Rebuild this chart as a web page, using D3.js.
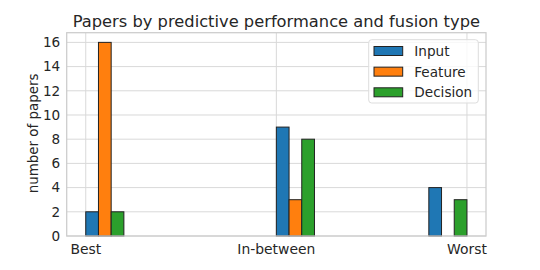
<!DOCTYPE html>
<html>
<head>
<meta charset="utf-8">
<script src="https://cdn.jsdelivr.net/npm/d3@7"></script>
<style>
  body { margin: 0; background: #fff; }
  text { font-family: "DejaVu Sans", sans-serif; fill: #262626; }
</style>
</head>
<body>
<svg id="chart" width="540" height="270"></svg>
<script>
// values
const categories = ['Best', 'In-between', 'Worst'];
const seriesNames = ['Input', 'Feature', 'Decision'];
const inputCounts = [2, 9, 4];
const featureCounts = [16, 3, 0];
const decisionCounts = [2, 8, 3];
const yTicks = [0, 2, 4, 6, 8, 10, 12, 14, 16];

const colors = ['#1f77b4', '#ff7f0e', '#2ca02c'];
const counts = [inputCounts, featureCounts, decisionCounts];

// plot area (note: "top" is taken by window.top, so use other names)
const plotL = 66.7, plotR = 486, plotT = 32.7, plotB = 236;
let barW = 1 / 15;

// the last group hangs to the left of its tick in the original
let groupStart = (i) => i === categories.length - 1 ? i - 3 * barW : i;

let bars = [];
categories.forEach((c, i) => {
    seriesNames.forEach((s, j) => {
        bars.push({cat: i, series: j, x0: groupStart(i) + j * barW, v: counts[j][i]});
    });
});

let xmin = d3.min(bars, b => b.x0), xmax = d3.max(bars, b => b.x0 + barW);
let xpad = (xmax - xmin) * 0.05;
let x = d3.scaleLinear().domain([xmin - xpad, xmax + xpad]).range([plotL, plotR]);
let y = d3.scaleLinear().domain([0, 16 * 1.05]).range([plotB, plotT]);

let svg = d3.select('#chart');
svg.append('rect').attr('width', 540).attr('height', 270).attr('fill', '#fff');

// grid
svg.append('g').selectAll('line').data(yTicks).enter().append('line')
    .attr('x1', plotL).attr('x2', plotR)
    .attr('y1', d => y(d)).attr('y2', d => y(d))
    .attr('stroke', '#d9d9d9').attr('stroke-width', 1);
svg.append('g').selectAll('line').data(categories).enter().append('line')
    .attr('x1', (d, i) => x(i)).attr('x2', (d, i) => x(i))
    .attr('y1', plotT).attr('y2', plotB)
    .attr('stroke', '#d9d9d9').attr('stroke-width', 1);

// bars
svg.append('g').selectAll('rect').data(bars.filter(b => b.v > 0)).enter().append('rect')
    .attr('x', d => x(d.x0))
    .attr('y', d => y(d.v))
    .attr('width', d => x(d.x0 + barW) - x(d.x0))
    .attr('height', d => y(0) - y(d.v))
    .attr('fill', d => colors[d.series])
    .attr('stroke', '#222').attr('stroke-width', 1);

// frame
svg.append('rect')
    .attr('x', plotL).attr('y', plotT)
    .attr('width', plotR - plotL).attr('height', plotB - plotT)
    .attr('fill', 'none').attr('stroke', '#cccccc').attr('stroke-width', 1.25);

// y tick labels
svg.append('g').selectAll('text').data(yTicks).enter().append('text')
    .attr('x', plotL - 6.5).attr('y', d => y(d) + 4.8)
    .attr('text-anchor', 'end').attr('font-size', '13.6px')
    .text(d => d);

// x tick labels
svg.append('g').selectAll('text').data(categories).enter().append('text')
    .attr('x', (d, i) => x(i)).attr('y', 254)
    .attr('text-anchor', 'middle').attr('font-size', '13.9px')
    .text(d => d);

svg.append('text')
    .attr('transform', 'translate(38.3,133.4) rotate(-90)')
    .attr('text-anchor', 'middle').attr('font-size', '13.4px')
    .text('number of papers');

svg.append('text')
    .attr('x', (plotL + plotR) / 2).attr('y', 27)
    .attr('text-anchor', 'middle').attr('font-size', '16.3px')
    .text('Papers by predictive performance and fusion type');

// legend
let lg = svg.append('g');
lg.append('rect')
    .attr('x', 368.7).attr('y', 39.7).attr('width', 109.6).attr('height', 63.3)
    .attr('rx', 3).attr('fill', '#fff').attr('fill-opacity', 0.8)
    .attr('stroke', '#dddddd').attr('stroke-width', 1);
let rows = lg.selectAll('g.row').data(seriesNames).enter().append('g')
    .attr('transform', (d, i) => 'translate(0,' + (51 + i * 20.65) + ')');
rows.append('rect')
    .attr('x', 374).attr('y', -4.5).attr('width', 28.7).attr('height', 9)
    .attr('fill', (d, i) => colors[i]).attr('stroke', '#222').attr('stroke-width', 1);
rows.append('text')
    .attr('x', 414.3).attr('y', 4.9).attr('font-size', '13.6px')
    .text(d => d);
</script>
</body>
</html>
